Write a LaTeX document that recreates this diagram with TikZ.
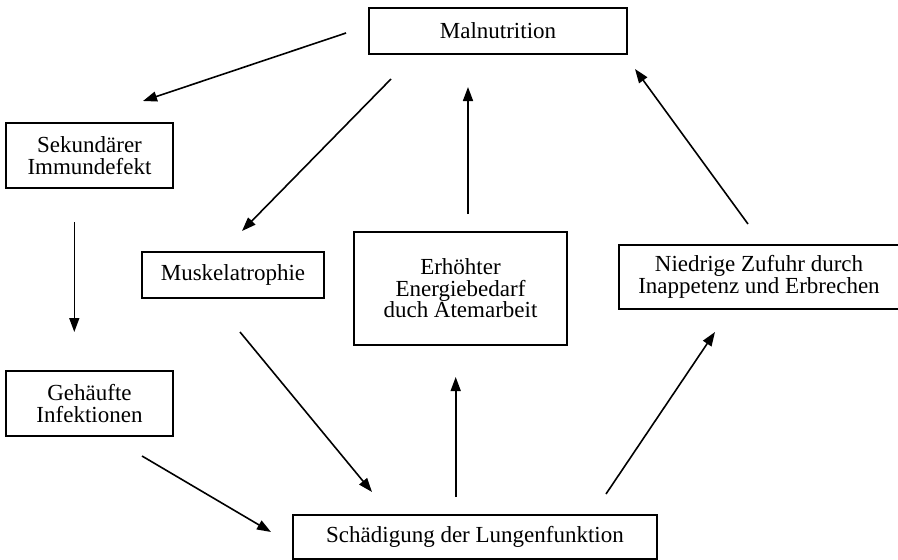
\documentclass[tikz,border=0pt]{standalone}
\usepackage{fontspec}
\setmainfont{Liberation Serif}
\usetikzlibrary{arrows.meta}
\begin{document}
\begin{tikzpicture}[x=1pt,y=-1pt,
  box/.style={draw,line width=1.8pt,inner sep=0pt,align=center,
    font=\fontsize{23}{21.5}\selectfont},
  arr/.style={line width=1.6pt,-{Triangle[length=14pt,width=10pt]}}]
\useasboundingbox (0,0) rectangle (898,560);
\clip (0,0) rectangle (898,560);
\node[box,minimum width=258pt,minimum height=46pt] (mal) at (498,31) {Malnutrition};
\node[box,minimum width=167pt,minimum height=65pt] (sek) at (89.5,155.5) {Sekundärer\\Immundefekt};
\node[box,minimum width=182pt,minimum height=46pt] (mus) at (233,275) {Muskelatrophie};
\node[box,minimum width=213pt,minimum height=113pt] (erh) at (460.5,288.5) {Erhöhter\\Energiebedarf\\duch Atemarbeit};
\node[box,minimum width=280pt,minimum height=64pt] (nie) at (759,277) {Niedrige Zufuhr durch\\Inappetenz und Erbrechen};
\node[box,minimum width=167pt,minimum height=65pt] (geh) at (89.5,403.5) {Gehäufte\\Infektionen};
\node[box,minimum width=364pt,minimum height=44pt] (sch) at (475,537) {Schädigung der Lungenfunktion};
% arrow end points
\coordinate (a1s) at (346,33);  \coordinate (a1e) at (143,101);
\coordinate (a2s) at (391,79);  \coordinate (a2e) at (242,231);
\coordinate (a3s) at (74.3,222); \coordinate (a3e) at (74.3,332);
\coordinate (a4s) at (240,332); \coordinate (a4e) at (372,492);
\coordinate (a5s) at (142,456); \coordinate (a5e) at (271,532);
\coordinate (a6s) at (455.7,497); \coordinate (a6e) at (455.7,377);
\coordinate (a7s) at (606,494); \coordinate (a7e) at (715,332);
\coordinate (a8s) at (468,214); \coordinate (a8e) at (468,87);
\coordinate (a9s) at (748,224); \coordinate (a9e) at (635,69);
\draw[arr] (a1s) -- (a1e);
\draw[arr] (a2s) -- (a2e);
\draw[arr] (a3s) -- (a3e);
\draw[arr] (a4s) -- (a4e);
\draw[arr] (a5s) -- (a5e);
\draw[arr] (a6s) -- (a6e);
\draw[arr] (a7s) -- (a7e);
\draw[arr] (a8s) -- (a8e);
\draw[arr] (a9s) -- (a9e);
\end{tikzpicture}
\end{document}
